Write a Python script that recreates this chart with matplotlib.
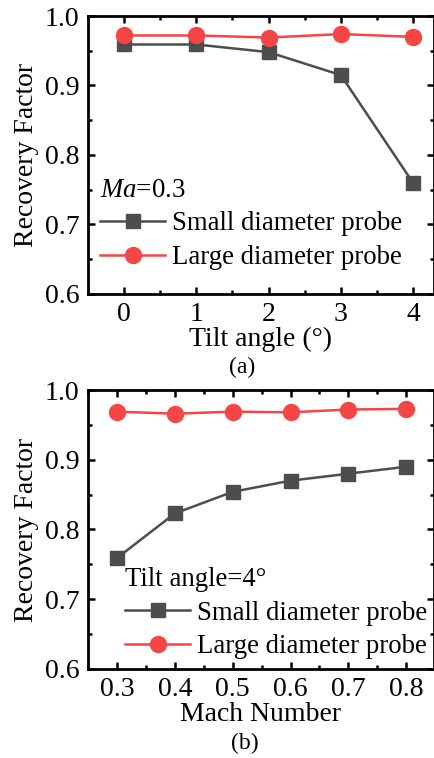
import numpy as np
import matplotlib.pyplot as plt
from matplotlib.ticker import MultipleLocator

plt.rcParams['font.family'] = ['Liberation Serif', 'DejaVu Serif']
plt.rcParams['mathtext.fontset'] = 'custom'
plt.rcParams['mathtext.rm'] = 'Liberation Serif'
plt.rcParams['mathtext.it'] = 'Liberation Serif:italic'

# ---- data ----
tilt = [0, 1, 2, 3, 4]
tilt_small = [0.959, 0.959, 0.948, 0.915, 0.760]
tilt_large = [0.972, 0.972, 0.969, 0.974, 0.970]

mach = [0.3, 0.4, 0.5, 0.6, 0.7, 0.8]
mach_small = [0.759, 0.823, 0.854, 0.870, 0.880, 0.890]
mach_large = [0.969, 0.966, 0.969, 0.968, 0.972, 0.973]

gray = '#4d4d4d'
red = '#f64545'
fs = 20
leg_fs = 19.3

fig = plt.figure(figsize=(4.35, 7.58), dpi=100)
ax1 = fig.add_axes([88 / 435, 1 - 294 / 758, 346 / 435, 278 / 758])
ax2 = fig.add_axes([88 / 435, 1 - 669 / 758, 346 / 435, 279 / 758])


def style(ax):
    for s in ax.spines.values():
        s.set_linewidth(2.0)
    ax.tick_params(which='both', direction='in', top=True, right=True,
                   labelsize=fs, width=1.8, pad=6)
    ax.tick_params(which='major', length=5)
    ax.tick_params(which='minor', length=3)
    ax.set_ylim(0.6, 1.0)
    ax.yaxis.set_major_locator(MultipleLocator(0.1))
    ax.yaxis.set_minor_locator(MultipleLocator(0.05))
    ax.set_ylabel('Recovery Factor', fontsize=fs, labelpad=4)


def draw(ax, x, small, large, title, anchor):
    ax.plot(x, small, '-s', color=gray, lw=1.8, ms=10,
            label='Small diameter probe')
    ax.plot(x, large, '-o', color=red, lw=1.8, ms=11.5,
            label='Large diameter probe')
    leg = ax.legend(title=title, loc='lower left', bbox_to_anchor=anchor,
                    frameon=False, fontsize=leg_fs, title_fontsize=leg_fs,
                    handlelength=2.45, handletextpad=0.25, labelspacing=0.33,
                    borderaxespad=0, alignment='left')
    return leg


# ---- (a) tilt angle ----
draw(ax1, tilt, tilt_small, tilt_large, r'$Ma$=0.3', (0.003, 0.047))
style(ax1)
ax1.set_xlim(-0.5, 4.29)
ax1.xaxis.set_major_locator(MultipleLocator(1))
ax1.xaxis.set_minor_locator(MultipleLocator(0.5))
ax1.set_xlabel('Tilt angle (°)', fontsize=fs, labelpad=0)
fig.text(242 / 435, 1 - 367 / 758, '(a)', ha='center', va='center', fontsize=17)

# ---- (b) Mach number ----
draw(ax2, mach, mach_small, mach_large, 'Tilt angle=4°', (0.075, -0.004))
style(ax2)
ax2.set_xlim(0.25, 0.848)
ax2.xaxis.set_major_locator(MultipleLocator(0.1))
ax2.xaxis.set_minor_locator(MultipleLocator(0.05))
ax2.set_xlabel('Mach Number', fontsize=fs, labelpad=0)
fig.text(245 / 435, 1 - 743 / 758, '(b)', ha='center', va='center', fontsize=17)

fig.savefig('out.png', dpi=100)
